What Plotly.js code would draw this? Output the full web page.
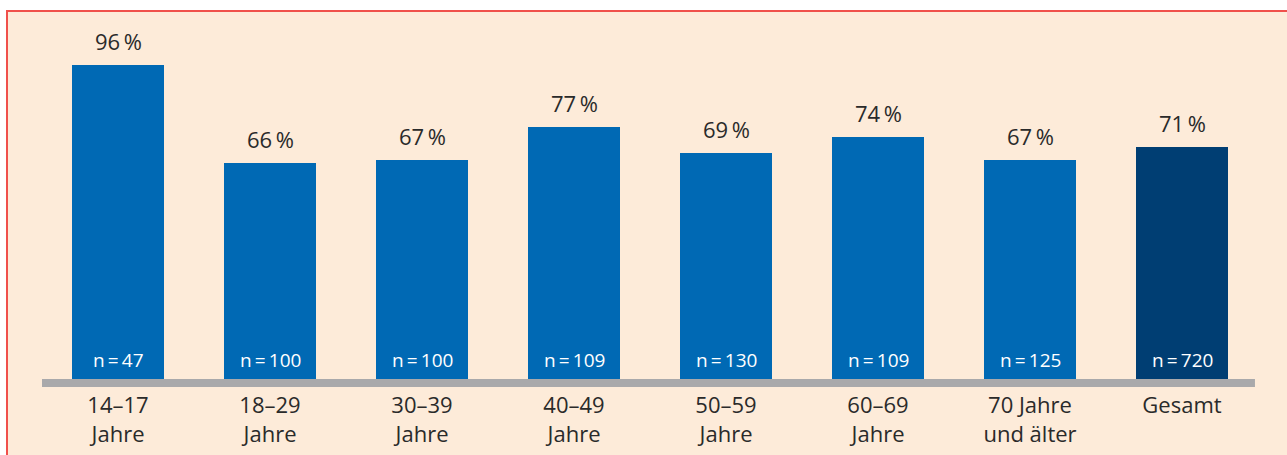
<!DOCTYPE html>
<html>
<head>
<meta charset="utf-8">
<script src="https://cdn.plot.ly/plotly-3.0.1.min.js"></script>
<style>
  html, body { margin: 0; padding: 0; background: #ffffff; width: 1287px; height: 455px; overflow: hidden; }
  #frame { position: absolute; left: 6px; top: 10px; width: 1281px; height: 445px; box-sizing: border-box;
           border-left: 2px solid #f0504b; border-top: 2px solid #f0504b; background: #fdebd9; }
  #chart { position: absolute; left: 0; top: 0; width: 1287px; height: 455px; }
</style>
</head>
<body>
<div id="frame"></div>
<div id="chart"></div>
<script>
const categories = ["14–17<br>Jahre", "18–29<br>Jahre", "30–39<br>Jahre", "40–49<br>Jahre",
                    "50–59<br>Jahre", "60–69<br>Jahre", "70 Jahre<br>und älter", "Gesamt"];
const percentValues = [96, 66, 67, 77, 69, 74, 67, 71];
const sampleSizes = [47, 100, 100, 109, 130, 109, 125, 720];
const isTotal = [false, false, false, false, false, false, false, true];

const idx = categories.map((_, i) => i);
const barColors = isTotal.map(t => t ? '#003e73' : '#0069b4');
const FONT = '"Open Sans", "Noto Sans", sans-serif';

const trace = {
  type: 'bar',
  x: idx,
  y: percentValues,
  width: 0.605,
  marker: { color: barColors, line: { width: 0 } },
  hoverinfo: 'skip'
};

const annotations = [];
idx.forEach(i => {
  annotations.push({
    x: i, y: percentValues[i], xref: 'x', yref: 'y',
    text: percentValues[i] + '\u2009%', showarrow: false,
    yanchor: 'bottom', yshift: 7,
    font: { family: FONT, size: 22, color: '#2a2a2a' }
  });
  annotations.push({
    x: i, y: 0, xref: 'x', yref: 'y',
    text: 'n\u2009=\u2009' + sampleSizes[i], showarrow: false,
    yanchor: 'bottom', yshift: 4,
    font: { family: FONT, size: 19, color: '#ffffff' }
  });
});

const layout = {
  width: 1287, height: 455,
  margin: { l: 42, r: 29, t: 30, b: 76, pad: 0 },
  paper_bgcolor: 'rgba(0,0,0,0)',
  plot_bgcolor: 'rgba(0,0,0,0)',
  showlegend: false,
  bargap: 0,
  xaxis: {
    range: [-0.5, 7.5],
    tickmode: 'array', tickvals: idx, ticktext: categories,
    ticks: '', showgrid: false, zeroline: false, showline: false,
    tickfont: { family: FONT, size: 22, color: '#2a2a2a' },
    ticklabelstandoff: 11,
    fixedrange: true
  },
  yaxis: {
    range: [0, 106.7],
    visible: false, showgrid: false, zeroline: false, fixedrange: true
  },
  shapes: [{
    type: 'rect', xref: 'paper', yref: 'paper',
    x0: 0, x1: 0.9975,
    ysizemode: 'pixel', yanchor: 0, y0: -8, y1: 0,
    fillcolor: '#a9a9ab', line: { width: 0 }, layer: 'above'
  }],
  annotations: annotations
};

Plotly.newPlot('chart', [trace], layout, { displayModeBar: false, staticPlot: true });
</script>
</body>
</html>
